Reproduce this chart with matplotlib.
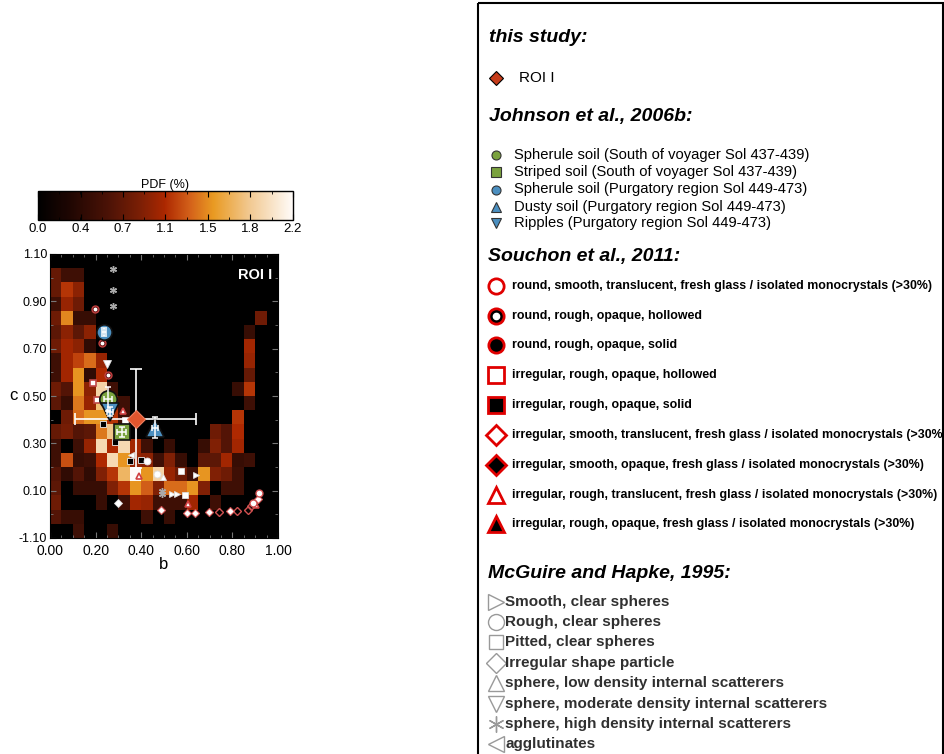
import numpy as np
import matplotlib.pyplot as plt
from matplotlib.colors import LinearSegmentedColormap
from matplotlib.patches import Rectangle
from matplotlib.ticker import MultipleLocator

plt.rcParams['font.family'] = ['Liberation Sans', 'DejaVu Sans']

# PDF (%) of the b-c grid, first row is c = 1.04..1.10, last row c = -0.10..-0.04
pdf_rows = [
    [0, 0, 0, 0, 0, 0, 0, 0, 0, 0, 0, 0, 0, 0, 0, 0, 0, 0, 0, 0],
    [0.75, 0.5, 0.5, 0, 0, 0, 0, 0, 0, 0, 0, 0, 0, 0, 0, 0, 0, 0, 0, 0],
    [0.75, 1.15, 0.95, 0, 0, 0, 0, 0, 0, 0, 0, 0, 0, 0, 0, 0, 0, 0, 0, 0],
    [0.5, 1.0, 0.8, 0, 0, 0, 0, 0, 0, 0, 0, 0, 0, 0, 0, 0, 0, 0, 0, 0],
    [0.8, 1.45, 0.45, 0.45, 0, 0, 0, 0, 0, 0, 0, 0, 0, 0, 0, 0, 0, 0, 0.8, 0],
    [0.7, 0.95, 0.7, 0.95, 0, 0, 0, 0, 0, 0, 0, 0, 0, 0, 0, 0, 0, 0.45, 0, 0],
    [0.8, 1.05, 0.95, 0.4, 0, 0, 0, 0, 0, 0, 0, 0, 0, 0, 0, 0, 0, 1.05, 0, 0],
    [0.5, 1.05, 1.2, 1.35, 1.0, 0, 0, 0, 0, 0, 0, 0, 0, 0, 0, 0, 0, 1.0, 0, 0],
    [0.5, 1.05, 1.5, 0.4, 1.1, 0, 0, 0, 0, 0, 0, 0, 0, 0, 0, 0, 0, 0.75, 0, 0],
    [0.8, 0.65, 1.5, 0.95, 1.9, 0.5, 0, 0, 0, 0, 0, 0, 0, 0, 0, 0, 0.45, 1.15, 0, 0],
    [0.7, 0.45, 1.4, 1.0, 1.75, 1.05, 0.5, 0, 0, 0, 0, 0, 0, 0, 0, 0, 0, 0.5, 0, 0],
    [0, 0.8, 1.35, 1.5, 1.5, 1.15, 0.5, 0, 0, 0, 0, 0, 0, 0, 0, 0, 1.15, 0, 0, 0],
    [0.75, 0.85, 0.65, 0.7, 1.4, 1.8, 1.05, 0, 0, 0, 0, 0, 0, 0, 0.8, 0.65, 1.1, 0, 0, 0],
    [0.5, 0, 0.5, 1.0, 1.95, 1.1, 1.95, 1.05, 0.5, 0, 0.45, 0, 0, 0.45, 0.9, 0.65, 1.05, 0, 0, 0],
    [0.5, 1.25, 0.45, 0.5, 1.1, 1.95, 1.5, 1.0, 0.95, 0.5, 0.9, 0.45, 0, 0.7, 0.7, 1.05, 0.45, 0.5, 0, 0],
    [0.65, 0.4, 0.65, 0.4, 0.9, 1.15, 1.7, 2.2, 1.5, 1.9, 1.0, 0.8, 0.5, 1.5, 0.9, 0.8, 0.5, 0, 0, 0],
    [0.7, 0, 0.45, 0.45, 0.45, 0.9, 1.15, 1.5, 1.3, 0.9, 1.35, 1.35, 1.5, 0.9, 0, 0.5, 0.5, 0, 0, 0],
    [0.8, 0, 0, 0, 0.45, 0, 0.5, 1.05, 1.0, 0.5, 0.5, 0.5, 1.05, 0, 0.5, 0, 0, 0, 0, 0],
    [0.65, 0.45, 0.45, 0, 0, 0, 0, 0, 0.5, 0, 0.45, 0, 0, 0, 0, 0, 0, 0, 0, 0],
    [0, 0, 0.5, 0, 0, 0.45, 0, 0, 0, 0, 0, 0, 0, 0, 0, 0, 0, 0, 0, 0],
]
b_edges = np.linspace(0, 1, 21)
c_edges = np.linspace(-0.10, 1.10, 21)

cbar_ticks = [0.0, 0.367, 0.733, 1.1, 1.467, 1.833, 2.2]
x_ticks = [0.0, 0.2, 0.4, 0.6, 0.8, 1.0]
x_tick_labels = ['0.00', '0.20', '0.40', '0.60', '0.80', '1.00']
y_ticks = [1.10, 0.90, 0.70, 0.50, 0.30, 0.10, -0.10]
y_tick_labels = ['1.10', '0.90', '0.70', '0.50', '0.30', '0.10', '-1.10']

# this study
roi_b, roi_c = [0.375], [0.404]
roi_b_err, roi_c_err = [0.265], [0.21]

# Johnson et al., 2006b
johnson_labels = ['Spherule soil (South of voyager Sol 437-439)',
                  'Striped soil (South of voyager Sol 437-439)',
                  'Spherule soil (Purgatory region Sol 449-473)',
                  'Dusty soil (Purgatory region Sol 449-473)',
                  'Ripples (Purgatory region Sol 449-473)']
johnson_b = [0.255, 0.314, 0.236, 0.46, 0.263]
johnson_c = [0.487, 0.349, 0.770, 0.366, 0.434]
johnson_b_err = [0.018, 0.018, 0.008, 0.012, 0.015]
johnson_c_err = [0.05, 0.022, 0.017, 0.045, 0.02]

# Souchon et al., 2011 (points on the plot)
souchon_labels = ['round, smooth, translucent, fresh glass / isolated monocrystals (>30%)',
                  'round, rough, opaque, hollowed',
                  'round, rough, opaque, solid',
                  'irregular, rough, opaque, hollowed',
                  'irregular, rough, opaque, solid',
                  'irregular, smooth, translucent, fresh glass / isolated monocrystals (>30%)',
                  'irregular, smooth, opaque, fresh glass / isolated monocrystals (>30%)',
                  'irregular, rough, translucent, fresh glass / isolated monocrystals (>30%)',
                  'irregular, rough, opaque, fresh glass / isolated monocrystals (>30%)']
hollow_round_b = [0.196, 0.227, 0.256]
hollow_round_c = [0.869, 0.722, 0.589]
hollow_square_b = [0.187, 0.208]
hollow_square_c = [0.556, 0.482]
solid_square_b = [0.234, 0.283, 0.351, 0.400]
solid_square_c = [0.383, 0.307, 0.224, 0.231]
transl_tri_b = [0.320, 0.391, 0.606, 0.902]
transl_tri_c = [0.436, 0.160, 0.042, 0.040]
transl_diam_b = [0.740, 0.822, 0.869, 0.880]
transl_diam_c = [0.010, 0.014, 0.020, 0.035]
opaque_diam_b = [0.486, 0.599, 0.635, 0.696, 0.788, 0.914]
opaque_diam_c = [0.020, 0.006, 0.006, 0.010, 0.014, 0.066]
transl_round_b = [0.890, 0.917]
transl_round_c = [0.046, 0.090]

# McGuire and Hapke, 1995
mcguire_labels = ['Smooth, clear spheres', 'Rough, clear spheres', 'Pitted, clear spheres',
                  'Irregular shape particle', 'sphere, low density internal scatterers',
                  'sphere, moderate density internal scatterers',
                  'sphere, high density internal scatterers', 'agglutinates']
smooth_b = [0.642, 0.536, 0.556]
smooth_c = [0.166, 0.084, 0.084]
rough_b = [0.424, 0.468]
rough_c = [0.227, 0.170]
pitted_b = [0.330, 0.576, 0.591]
pitted_c = [0.398, 0.184, 0.080]
irregular_b = [0.300]
irregular_c = [0.046]
low_b = [0.494]
low_c = [0.156]
moderate_b = [0.249]
moderate_c = [0.634]
high_b = [0.278, 0.278, 0.275, 0.490, 0.490]
high_c = [1.036, 0.947, 0.881, 0.100, 0.084]
agglut_b = [0.355]
agglut_c = [0.251]

cmap = LinearSegmentedColormap.from_list('pdf', [
    (0.0, '#000000'), (0.12, '#1e0602'), (0.27, '#4a1206'), (0.4, '#7c1f05'),
    (0.5, '#ad2800'), (0.6, '#d4621a'), (0.69, '#e99a22'), (0.83, '#f1c890'),
    (1.0, '#fffbf8')])

fig = plt.figure(figsize=(9.45, 7.54), dpi=100)
W, H = 945, 754

# ---- heat map ----
ax = fig.add_axes([50 / W, 1 - 538 / H, 228 / W, 284 / H])
ax.set_facecolor('black')
mesh = ax.pcolormesh(b_edges, c_edges, np.array(pdf_rows)[::-1], cmap=cmap,
                     vmin=0, vmax=2.2, shading='flat')
ax.set_xlim(0, 1)
ax.set_ylim(-0.10, 1.10)
ax.set_xticks(x_ticks)
ax.set_xticklabels(x_tick_labels)
ax.set_yticks(y_ticks)
ax.set_yticklabels(y_tick_labels)
ax.xaxis.set_minor_locator(MultipleLocator(0.05))
ax.yaxis.set_minor_locator(MultipleLocator(0.1))
ax.tick_params(which='both', direction='in', top=True, right=True, color='#777777', pad=2)
ax.tick_params(axis='y', labelsize=9)
ax.tick_params(axis='x', labelsize=10, pad=4.5)
ax.tick_params(which='major', length=4)
ax.tick_params(which='minor', length=2.5)
ax.set_xlabel('b', fontsize=12, labelpad=-1)
ax.set_ylabel('c', fontsize=12, rotation=0, labelpad=4, va='center')
ax.text(0.975, 0.95, 'ROI I', transform=ax.transAxes, ha='right', va='top',
        color='white', fontweight='bold', fontsize=10.5)

red = '#e00000'
small = dict(linestyle='none', zorder=4)
ax.plot(hollow_round_b, hollow_round_c, marker='o', ms=5, mfc='#5a0a0a', mec='#c04040', mew=1, **small)
ax.plot(hollow_round_b, hollow_round_c, marker='o', ms=1.8, mfc='white', mec='white', **small)
ax.plot(hollow_square_b, hollow_square_c, marker='s', ms=4.5, mfc='white', mec='#c04848', mew=1.2, **small)
ax.plot(solid_square_b, solid_square_c, marker='s', ms=4.5, mfc='black', mec='#eeeeee', mew=0.6, **small)
ax.plot(transl_tri_b, transl_tri_c, marker='^', ms=5, mfc='white', mec='#d04040', mew=1.2, **small)
ax.plot(transl_diam_b, transl_diam_c, marker='D', ms=4.5, mfc='none', mec='#d05050', mew=1, **small)
ax.plot(opaque_diam_b, opaque_diam_c, marker='D', ms=4, mfc='white', mec='#d05050', mew=0.8, **small)
ax.plot(transl_round_b, transl_round_c, marker='o', ms=5, mfc='white', mec='#d05050', mew=1, **small)

mg = dict(linestyle='none', mfc='white', mec='#dddddd', mew=0.6, zorder=4)
ax.plot(smooth_b, smooth_c, marker='>', ms=5, **mg)
ax.plot(rough_b, rough_c, marker='o', ms=5, **mg)
ax.plot(pitted_b, pitted_c, marker='s', ms=4.5, **mg)
ax.plot(irregular_b, irregular_c, marker='D', ms=4, **mg)
ax.plot(low_b, low_c, marker='^', ms=5, **mg)
ax.plot(moderate_b, moderate_c, marker='v', ms=5.5, **mg)
ax.plot(high_b, high_c, marker=(6, 2, 0), ms=5, linestyle='none', mec='#aaaaaa', mew=1, zorder=4)
ax.plot(agglut_b, agglut_c, marker='<', ms=5, **mg)

# ROI I with its error bars
ax.errorbar(roi_b, roi_c, xerr=roi_b_err, yerr=roi_c_err, fmt='none', ecolor='white',
            elinewidth=1.2, capsize=4, capthick=1.2, zorder=5)
ax.plot(roi_b, roi_c, marker='D', ms=9, mfc='#e0562e', mec='#f08060', mew=0.8,
        linestyle='none', zorder=6)

# Johnson points, error bars on top
j_colors = ['#7aa23e', '#7aa23e', '#4b8fc0', '#4b8fc0', '#4b8fc0']
j_markers = ['o', 's', 'o', '^', 'v']
j_sizes = [12.5, 12, 11, 12.5, 12.5]
for bb, cc, col, mk, ms in zip(johnson_b, johnson_c, j_colors, j_markers, j_sizes):
    ax.plot([bb], [cc], marker=mk, ms=ms, mfc=col, mec='#111111', mew=1.2,
            linestyle='none', zorder=7)
ax.errorbar(johnson_b, johnson_c, xerr=johnson_b_err, yerr=johnson_c_err, fmt='none',
            ecolor='white', elinewidth=1.1, capsize=2.5, capthick=1.1, zorder=8)

# ---- colour bar ----
cax = fig.add_axes([38 / W, 1 - 220 / H, 255 / W, 29 / H])
cb = fig.colorbar(mesh, cax=cax, orientation='horizontal', ticks=cbar_ticks)
cb.ax.set_xticklabels(['%.1f' % t for t in cbar_ticks])
cb.ax.xaxis.set_minor_locator(MultipleLocator(2.2 / 12))
cb.ax.tick_params(which='both', direction='in', top=True, bottom=True, labelsize=9.5,
                  pad=2, color='black')
cb.ax.tick_params(which='major', length=4)
cb.ax.tick_params(which='minor', length=2.5)
cb.outline.set_linewidth(1)
cb.ax.set_title('PDF (%)', fontsize=9, pad=1.5)

# ---- legend panel ----
lax = fig.add_axes([0, 0, 1, 1])
lax.set_xlim(0, W)
lax.set_ylim(H, 0)
lax.axis('off')
lax.add_patch(Rectangle((478, 3), 465, 780, fill=False, lw=1.5, ec='black', clip_on=False))

hdr = dict(fontsize=14, fontweight='bold', fontstyle='italic', va='center', ha='left')
lax.text(489, 37, 'this study:', **hdr)
lax.text(489, 117, 'Johnson et al., 2006b:', **hdr)
lax.text(488, 257, 'Souchon et al., 2011:', **hdr)
lax.text(488, 573, 'McGuire and Hapke, 1995:', **hdr)

mx = 495.5
lax.plot([mx], [78], marker='D', ms=7.5, mfc='#c63c1a', mec='black', mew=0.8)
lax.text(519, 78, 'ROI I', fontsize=11, va='center')

j_rows = [155, 172, 189.5, 206.5, 223]
for y, col, mk, lab in zip(j_rows, j_colors, j_markers, johnson_labels):
    lax.plot([mx], [y], marker=mk, ms=6.5, mfc=col, mec='#333333', mew=0.8)
    lax.text(514, y, lab, fontsize=10.6, va='center')

s_rows = [286, 315.7, 345.3, 375, 405, 435, 465, 495, 524]
s_markers = ['o', 'o', 'o', 's', 's', 'D', 'D', '^', '^']
s_fills = ['white', 'black', 'black', 'white', 'black', 'white', 'black', 'white', 'black']
for y, mk, fc, lab in zip(s_rows, s_markers, s_fills, souchon_labels):
    ms = 10 if mk == 'D' else 11
    lax.plot([mx], [y], marker=mk, ms=ms, mfc=fc, mec=red, mew=2)
    lax.text(512, y, lab, fontsize=8.9, fontweight='bold', va='center')
lax.plot([mx], [s_rows[1]], marker='o', ms=4.5, mfc='white', mec='white')

m_rows = [601.7, 621.7, 641.7, 662.7, 683.3, 704, 724.3, 744]
m_markers = ['>', 'o', 's', 'D', '^', 'v', (6, 2, 0), '<']
for y, mk, lab in zip(m_rows, m_markers, mcguire_labels):
    ms = 10 if mk in ('s', 'D') else 11.5
    lax.plot([mx], [y], marker=mk, ms=ms, mfc='none', mec='#999999', mew=1)
    lax.text(505, y, lab, fontsize=11, fontweight='bold', color='#303030', va='center')

fig.savefig('out.png', dpi=100)
